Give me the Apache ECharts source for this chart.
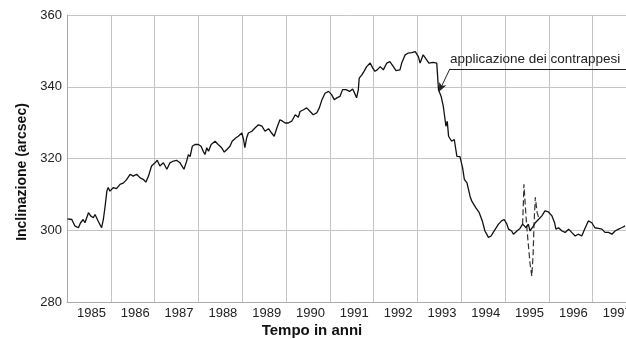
<!DOCTYPE html>
<html>
<head>
<meta charset="utf-8">
<script src="https://cdn.jsdelivr.net/npm/echarts@6/dist/echarts.min.js"></script>
<style>
  html, body { margin: 0; padding: 0; background: #fff; }
  #chart { width: 626px; height: 339px; }
</style>
</head>
<body>
<div id="chart"></div>
<script>
// tilt readings [year, arcsec]
const tilt1985to1987 = [
  [1985.01, 303.2], [1985.11, 303.0], [1985.18, 301.2], [1985.26, 300.7], [1985.31, 302.1],
  [1985.37, 303.0], [1985.41, 302.1], [1985.49, 304.9], [1985.54, 304.0], [1985.60, 303.5],
  [1985.64, 304.4], [1985.71, 302.6], [1985.79, 300.7], [1985.83, 303.0], [1985.87, 306.7],
  [1985.91, 310.9], [1985.94, 311.9], [1985.98, 310.9], [1986.06, 311.9], [1986.13, 311.6],
  [1986.21, 312.8], [1986.29, 313.2], [1986.36, 314.1], [1986.44, 315.6], [1986.51, 315.1],
  [1986.59, 315.6], [1986.67, 314.6], [1986.74, 314.2], [1986.80, 313.4], [1986.86, 315.1],
  [1986.93, 317.9], [1987.01, 318.8], [1987.06, 319.5], [1987.12, 317.9], [1987.20, 318.8],
  [1987.28, 317.0], [1987.35, 318.8], [1987.43, 319.3], [1987.50, 319.5], [1987.58, 318.8],
  [1987.67, 317.0]
];
const tilt1987to1990 = [
  [1987.73, 319.2], [1987.77, 321.1], [1987.81, 320.5], [1987.86, 323.4], [1987.92, 323.9],
  [1988.00, 323.9], [1988.06, 323.4], [1988.11, 322.0], [1988.15, 321.1], [1988.19, 323.0],
  [1988.23, 322.0], [1988.29, 323.9], [1988.38, 324.8], [1988.45, 323.9], [1988.53, 323.0],
  [1988.59, 321.8], [1988.65, 322.5], [1988.72, 323.4], [1988.77, 324.8], [1988.85, 325.7],
  [1988.91, 326.2], [1988.99, 327.1], [1989.03, 325.3], [1989.06, 323.0], [1989.10, 325.7],
  [1989.14, 327.1], [1989.22, 327.6], [1989.29, 328.5], [1989.37, 329.4], [1989.45, 329.0],
  [1989.52, 327.6], [1989.60, 328.3], [1989.67, 327.1], [1989.73, 326.2], [1989.79, 328.5],
  [1989.86, 330.8], [1989.92, 330.4], [1989.98, 329.9], [1990.05, 329.9], [1990.13, 330.4],
  [1990.21, 332.2], [1990.28, 331.5]
];
const tilt1990to1993 = [
  [1990.32, 333.1], [1990.40, 333.6], [1990.47, 334.1], [1990.55, 333.1], [1990.62, 332.2],
  [1990.70, 332.7], [1990.76, 334.1], [1990.82, 336.4], [1990.89, 338.2], [1990.97, 338.7],
  [1991.04, 337.8], [1991.10, 336.4], [1991.16, 336.9], [1991.23, 337.3], [1991.29, 339.2],
  [1991.37, 339.2], [1991.45, 338.7], [1991.52, 339.4], [1991.58, 337.8], [1991.61, 336.9],
  [1991.65, 339.2], [1991.67, 342.4], [1991.73, 343.3], [1991.78, 344.3], [1991.84, 345.6],
  [1991.92, 346.6], [1991.98, 345.2], [1992.03, 344.3], [1992.08, 344.7], [1992.15, 345.6],
  [1992.22, 344.7], [1992.30, 346.6], [1992.37, 347.0], [1992.45, 345.6], [1992.51, 344.5],
  [1992.60, 344.7], [1992.64, 346.6], [1992.72, 348.9], [1992.79, 349.4], [1992.87, 349.5],
  [1992.95, 349.8]
];
const tilt1993to1995 = [
  [1993.02, 348.4], [1993.06, 346.6], [1993.13, 348.9], [1993.21, 347.5], [1993.26, 346.6],
  [1993.36, 346.8], [1993.44, 346.6], [1993.46, 342.9], [1993.48, 339.2], [1993.54, 337.3],
  [1993.59, 334.5], [1993.65, 329.0], [1993.68, 330.4], [1993.71, 326.2], [1993.78, 324.8],
  [1993.84, 325.3], [1993.90, 320.6], [1993.97, 320.5], [1994.03, 317.4], [1994.07, 314.2],
  [1994.13, 313.2], [1994.20, 309.5], [1994.24, 308.1], [1994.28, 308.6], [1994.33, 306.3],
  [1994.41, 304.9], [1994.48, 302.6], [1994.54, 299.8], [1994.62, 298.0], [1994.68, 298.4],
  [1994.73, 299.4]
];
const tilt1995to1998 = [
  [1994.77, 299.4], [1994.85, 301.7], [1994.92, 302.6], [1994.98, 303.0], [1995.04, 301.7],
  [1995.08, 300.3], [1995.15, 299.8], [1995.19, 298.9], [1995.27, 299.8], [1995.34, 300.5],
  [1995.40, 301.7], [1995.44, 302.1], [1995.48, 300.7], [1995.53, 301.7], [1995.57, 299.8],
  [1995.62, 300.7], [1995.69, 302.1], [1995.76, 303.0], [1995.84, 304.0], [1995.91, 305.4],
  [1995.99, 305.1], [1996.07, 304.0], [1996.13, 302.1], [1996.16, 300.3], [1996.22, 300.7],
  [1996.30, 299.8], [1996.37, 299.4], [1996.45, 300.3], [1996.52, 299.4], [1996.60, 298.4],
  [1996.67, 298.9], [1996.75, 298.4], [1996.83, 300.7], [1996.90, 302.6], [1996.98, 302.1],
  [1997.05, 300.7], [1997.13, 300.5], [1997.21, 300.3], [1997.28, 299.4], [1997.36, 299.4],
  [1997.44, 298.9], [1997.51, 299.8], [1997.59, 300.3], [1997.66, 300.7], [1997.74, 301.2]
];
// dashed excursion around 1995
const tiltDashed = [
  [1995.40, 301.7], [1995.42, 308.6], [1995.43, 312.8], [1995.46, 307.2], [1995.49, 301.7],
  [1995.53, 296.1], [1995.57, 290.6], [1995.61, 287.2], [1995.64, 293.3], [1995.66, 301.7],
  [1995.69, 309.2], [1995.73, 305.0], [1995.78, 303.0]
];

const annotationText = 'applicazione dei contrappesi';
const annotationTarget = [1993.49, 338.6];
const annotationStart = [1993.74, 345.0];
const annotationEnd = [1997.76, 345.0];

const tilt = [].concat(tilt1985to1987, tilt1987to1990, tilt1990to1993, tilt1993to1995, tilt1995to1998);

const chart = echarts.init(document.getElementById('chart'), null, { renderer: 'canvas' });

const gridColor = '#c4c4c4';
const font = '"Liberation Sans", Arial, sans-serif';

chart.setOption({
  animation: false,
  backgroundColor: '#fff',
  grid: { left: 67, top: 15, right: 0, bottom: 37, containLabel: false, outerBoundsMode: 'none' },
  xAxis: {
    type: 'value',
    min: 1985,
    max: 1997.76,
    interval: 1,
    axisLine: { show: true, lineStyle: { color: '#aaa', width: 1 } },
    axisTick: { show: false },
    splitLine: { show: true, lineStyle: { color: gridColor, width: 1 } },
    axisLabel: {
      color: '#222',
      fontFamily: font,
      fontSize: 13,
      margin: 5,
      align: 'left',
      padding: [0, 0, 0, 10],
      showMaxLabel: false,
      hideOverlap: false,
      formatter: (v) => (Number.isInteger(v) ? String(v) : '')
    }
  },
  yAxis: {
    type: 'value',
    min: 280,
    max: 360,
    interval: 20,
    axisLine: { show: true, lineStyle: { color: '#aaa', width: 1 } },
    axisTick: { show: false },
    splitLine: { show: true, lineStyle: { color: gridColor, width: 1 } },
    axisLabel: { color: '#222', fontFamily: font, fontSize: 13, margin: 5 }
  },
  series: [
    {
      type: 'line',
      data: tilt,
      showSymbol: false,
      lineStyle: { color: '#111', width: 1.3 },
      z: 3,
      markLine: {
        silent: true,
        symbol: 'none',
        lineStyle: { color: '#222', width: 1, type: 'solid' },
        label: { show: false },
        data: [
          [
            { coord: annotationStart, symbol: 'none',
              label: { show: true, formatter: annotationText, position: 'insideStartTop',
                       distance: [0, 3], color: '#222', fontFamily: font, fontSize: 13.5 } },
            { coord: annotationEnd, symbol: 'none' }
          ],
          [
            { coord: annotationStart, symbol: 'none' },
            { coord: annotationTarget, symbol: 'arrow', symbolSize: [6, 9] }
          ]
        ]
      }
    },
    {
      type: 'line',
      data: tiltDashed,
      showSymbol: false,
      lineStyle: { color: '#333', width: 1.2, type: [6, 3] },
      z: 2
    }
  ],
  graphic: [
    {
      type: 'text',
      x: 22, y: 172,
      rotation: Math.PI / 2,
      style: {
        text: 'Inclinazione (arcsec)',
        fill: '#111',
        font: 'bold 14px "Liberation Sans", Arial, sans-serif',
        textAlign: 'center',
        textVerticalAlign: 'middle'
      }
    },
    {
      type: 'text',
      x: 312, y: 331,
      style: {
        text: 'Tempo in anni',
        fill: '#111',
        font: 'bold 15px "Liberation Sans", Arial, sans-serif',
        textAlign: 'center',
        textVerticalAlign: 'middle'
      }
    }
  ]
});
</script>
</body>
</html>
